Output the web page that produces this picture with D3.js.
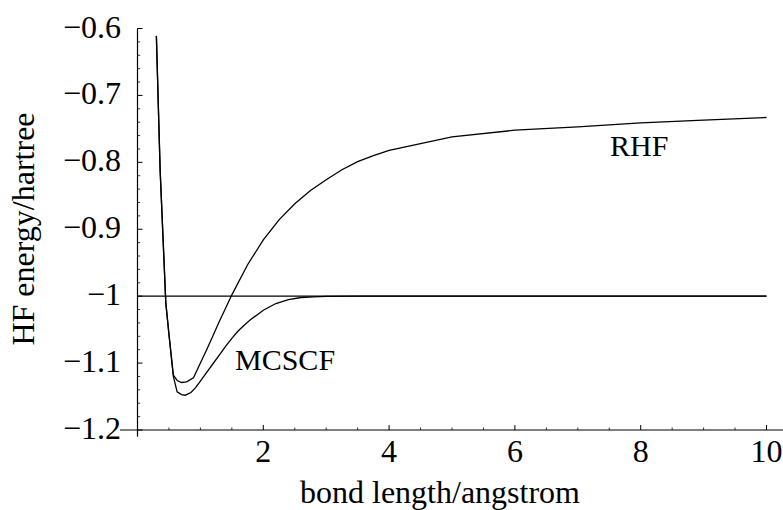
<!DOCTYPE html>
<html>
<head>
<meta charset="utf-8">
<script src="https://cdn.jsdelivr.net/npm/d3@7"></script>
<style>
  body { margin: 0; background: #fff; }
</style>
</head>
<body>
<div id="graph1"></div>
<script>
// data (bond length in angstrom, energy in hartree)
let rhf_x = [0.30, 0.36, 0.45, 0.50, 0.57, 0.63, 0.70, 0.78, 0.89, 1.0, 1.1, 1.2, 1.3, 1.4, 1.5, 1.75, 2.0, 2.25, 2.5, 2.75, 3.0, 3.25, 3.5, 3.75, 4, 5, 6, 7, 8, 9, 10];
let rhf_y = [-0.611, -0.812, -1.010, -1.057, -1.118, -1.126, -1.129, -1.128, -1.122, -1.100, -1.080, -1.059, -1.038, -1.018, -0.998, -0.953, -0.916, -0.886, -0.862, -0.842, -0.826, -0.811, -0.799, -0.790, -0.782, -0.762, -0.752, -0.747, -0.741, -0.737, -0.733];

let mcscf_x = [0.30, 0.36, 0.45, 0.50, 0.57, 0.63, 0.70, 0.76, 0.85, 0.92, 1.0, 1.1, 1.2, 1.3, 1.4, 1.5, 1.6, 1.7, 1.8, 1.9, 2.0, 2.2, 2.4, 2.6, 2.8, 3.0, 3.5, 4, 5, 6, 7, 8, 9, 10];
let mcscf_y = [-0.611, -0.812, -1.010, -1.057, -1.120, -1.143, -1.147, -1.148, -1.144, -1.137, -1.127, -1.114, -1.101, -1.088, -1.075, -1.063, -1.052, -1.043, -1.035, -1.028, -1.021, -1.011, -1.005, -1.002, -1.001, -1.0003, -1.0, -1.0, -1.0, -1.0, -1.0, -1.0, -1.0, -1.0];

// dissociation limit line
let limit_x = [0, 10];
let limit_y = [-1, -1];

let x_ticks = [2, 4, 6, 8, 10];
let y_ticks = [-1.2, -1.1, -1, -0.9, -0.8, -0.7, -0.6];
let x_labels = ["2", "4", "6", "8", "10"];
let y_labels = ["\u22121.2", "\u22121.1", "\u22121", "\u22120.9", "\u22120.8", "\u22120.7", "\u22120.6"];

let width = 783, height = 510;
let font = "'Liberation Serif', 'Times New Roman', Times, serif";

//set up SVG object
let svg = d3.select("#graph1")
            .append("svg")
            .attr("width", width)
            .attr("height", height)
            .attr("font-family", font);

//scales
let x = d3.scaleLinear().domain([0, 10]).range([137.5, 766.5]);
let y = d3.scaleLinear().domain([-1.2, -0.6]).range([430, 28.5]);

let line = d3.line()
             .x(function(d) { return x(d[0]) })
             .y(function(d) { return y(d[1]) });

//axes lines
svg.append("line")
   .attr("x1", x(-0.28)).attr("x2", x(10.3))
   .attr("y1", y(-1.2)).attr("y2", y(-1.2))
   .attr("stroke", "#000").attr("stroke-width", 1.2);
svg.append("line")
   .attr("x1", x(0)).attr("x2", x(0))
   .attr("y1", y(-0.6)).attr("y2", y(-1.21))
   .attr("stroke", "#000").attr("stroke-width", 1.2);

//x ticks (major + minor every 0.5), pointing up
let x_minor = d3.range(0.5, 10.01, 0.5).filter(function(v) { return Math.abs(v % 2) > 0.01 });
svg.append("g").selectAll("line").data(x_minor).enter()
   .append("line")
   .attr("x1", function(d) { return x(d) }).attr("x2", function(d) { return x(d) })
   .attr("y1", y(-1.2)).attr("y2", y(-1.2) - 2.5)
   .attr("stroke", "#000").attr("stroke-width", 0.8);
svg.append("g").selectAll("line").data(x_ticks).enter()
   .append("line")
   .attr("x1", function(d) { return x(d) }).attr("x2", function(d) { return x(d) })
   .attr("y1", y(-1.2)).attr("y2", y(-1.2) - 5)
   .attr("stroke", "#000").attr("stroke-width", 1);
svg.append("g").selectAll("text").data(x_ticks).enter()
   .append("text")
   .attr("x", function(d) { return x(d) })
   .attr("y", 462)
   .style("font-family", font)
   .style("text-anchor", "middle")
   .style("font-size", "32px")
   .text(function(d, i) { return x_labels[i] });

//y ticks (major + minor every 0.02), pointing right
let y_minor = d3.range(0, 31).map(function(i) { return -1.2 + i * 0.02 })
                .filter(function(v, i) { return i % 5 !== 0 });
svg.append("g").selectAll("line").data(y_minor).enter()
   .append("line")
   .attr("x1", x(0)).attr("x2", x(0) + 2.7)
   .attr("y1", function(d) { return y(d) }).attr("y2", function(d) { return y(d) })
   .attr("stroke", "#000").attr("stroke-width", 0.8);
svg.append("g").selectAll("line").data(y_ticks).enter()
   .append("line")
   .attr("x1", x(0)).attr("x2", x(0) + 5)
   .attr("y1", function(d) { return y(d) }).attr("y2", function(d) { return y(d) })
   .attr("stroke", "#000").attr("stroke-width", 1);
svg.append("g").selectAll("text").data(y_ticks).enter()
   .append("text")
   .attr("x", 121)
   .attr("y", function(d) { return y(d) + 9 })
   .style("font-family", font)
   .style("text-anchor", "end")
   .style("font-size", "32px")
   .text(function(d, i) { return y_labels[i] });

//curves
svg.append("path")
   .datum(d3.zip(limit_x, limit_y))
   .attr("d", line)
   .attr("fill", "none").attr("stroke", "#000").attr("stroke-width", 1.3);
svg.append("path")
   .datum(d3.zip(rhf_x, rhf_y))
   .attr("d", line)
   .attr("fill", "none").attr("stroke", "#000").attr("stroke-width", 1.3);
svg.append("path")
   .datum(d3.zip(mcscf_x, mcscf_y))
   .attr("d", line)
   .attr("fill", "none").attr("stroke", "#000").attr("stroke-width", 1.3);

//curve labels
svg.append("text")
   .attr("x", 610).attr("y", 156)
   .style("font-family", font)
   .style("font-size", "30px")
   .text("RHF");
svg.append("text")
   .attr("x", 235).attr("y", 370)
   .style("font-family", font)
   .style("font-size", "30px")
   .text("MCSCF");

//axis titles
svg.append("text")
   .attr("x", 440).attr("y", 503)
   .style("font-family", font)
   .style("text-anchor", "middle")
   .style("font-size", "32px")
   .text("bond length/angstrom");
svg.append("text")
   .attr("transform", "translate(34,229) rotate(-90)")
   .style("font-family", font)
   .style("text-anchor", "middle")
   .style("font-size", "32px")
   .text("HF energy/hartree");
</script>
</body>
</html>
